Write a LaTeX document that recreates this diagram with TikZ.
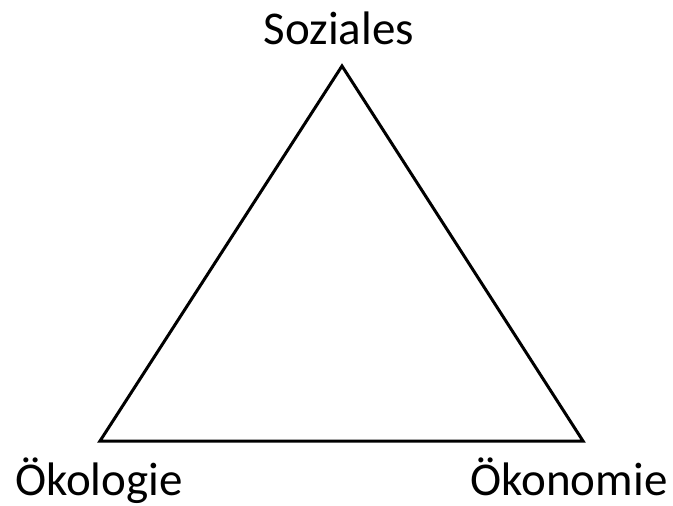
\documentclass[tikz,border=0pt]{standalone}
\usepackage{fontspec}
\setmainfont{Carlito}
\begin{document}
\begin{tikzpicture}[x=1pt,y=-1pt,
  lbl/.style={font=\fontsize{47}{56}\selectfont, inner sep=0pt, anchor=base},
  edge/.style={line width=3pt, line join=miter}]
\useasboundingbox (0,0) rectangle (673,506);
\coordinate (top) at (342,66);
\coordinate (left) at (100,441);
\coordinate (right) at (583,441);
\draw[edge] (top) -- (left) -- (right) -- cycle;
\node[lbl] (soz) at (339,45) {Soziales};
\node[lbl] (oek) at (99,495) {Ökologie};
\node[lbl] (oen) at (569,495) {Ökonomie};
\end{tikzpicture}
\end{document}
